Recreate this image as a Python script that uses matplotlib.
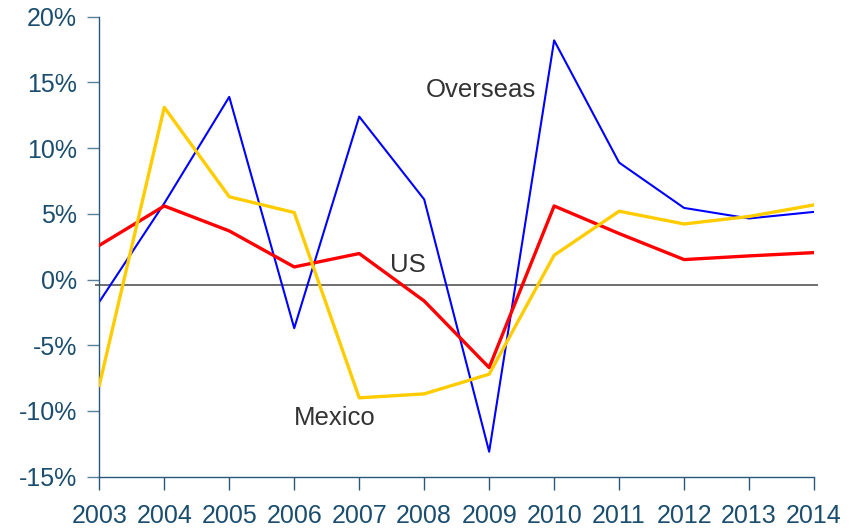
import matplotlib.pyplot as plt
from matplotlib.ticker import FuncFormatter

plt.rcParams["font.family"] = ["Liberation Sans", "DejaVu Sans"]

# годовой прирост, %
years = list(range(2003, 2015))
overseas = [-1.7, 5.8, 13.9, -3.7, 12.4, 6.1, -13.1, 18.2, 8.9, 5.45, 4.65, 5.15]
us = [2.6, 5.6, 3.7, 0.96, 1.98, -1.63, -6.7, 5.6, 3.5, 1.52, 1.8, 2.05]
mexico = [-8.05, 13.1, 6.3, 5.1, -9.0, -8.7, -7.2, 1.85, 5.2, 4.23, 4.8, 5.68]

y_ticks = [-15, -10, -5, 0, 5, 10, 15, 20]
base_line = -0.4

series_labels = [
    ("Overseas", 2008.87, 14.4),
    ("US", 2007.75, 1.1),
    ("Mexico", 2006.62, -10.5),
]

text_color = "#1A4D6E"
spine_color = "#2B5877"
tick_color = "#5A8099"

fig = plt.figure(figsize=(8.56, 5.29), dpi=100)
ax = fig.add_axes([0.116, 0.0989, 0.835, 0.8695])

ax.hlines(base_line, 2002.93, 2014.06, color="#6E6E6E", linewidth=1.4,
          clip_on=False, zorder=1)

ax.plot(years, overseas, color="#0000FF", linewidth=1.5, zorder=2)
ax.plot(years, us, color="#FF0000", linewidth=2.4, zorder=3)
ax.plot(years, mexico, color="#FFCC00", linewidth=2.4, zorder=4)

for text, x, y in series_labels:
    ax.text(x, y, text, fontsize=18.5, color="#333333", ha="center", va="center")

ax.set_xlim(2003, 2014)
ax.set_ylim(-15, 20)
ax.set_xticks(years)
ax.set_yticks(y_ticks)
ax.yaxis.set_major_formatter(FuncFormatter(lambda v, _: f"{v:.0f}%"))

for side in ("top", "right"):
    ax.spines[side].set_visible(False)
for side in ("left", "bottom"):
    ax.spines[side].set_color(spine_color)
    ax.spines[side].set_linewidth(1.0)

ax.tick_params(axis="both", direction="out", length=9, width=1.0,
               labelcolor=text_color, labelsize=18)
ax.tick_params(axis="y", pad=7, color=tick_color)
ax.tick_params(axis="x", pad=11, color=spine_color)

fig.savefig("out.png", dpi=100)
